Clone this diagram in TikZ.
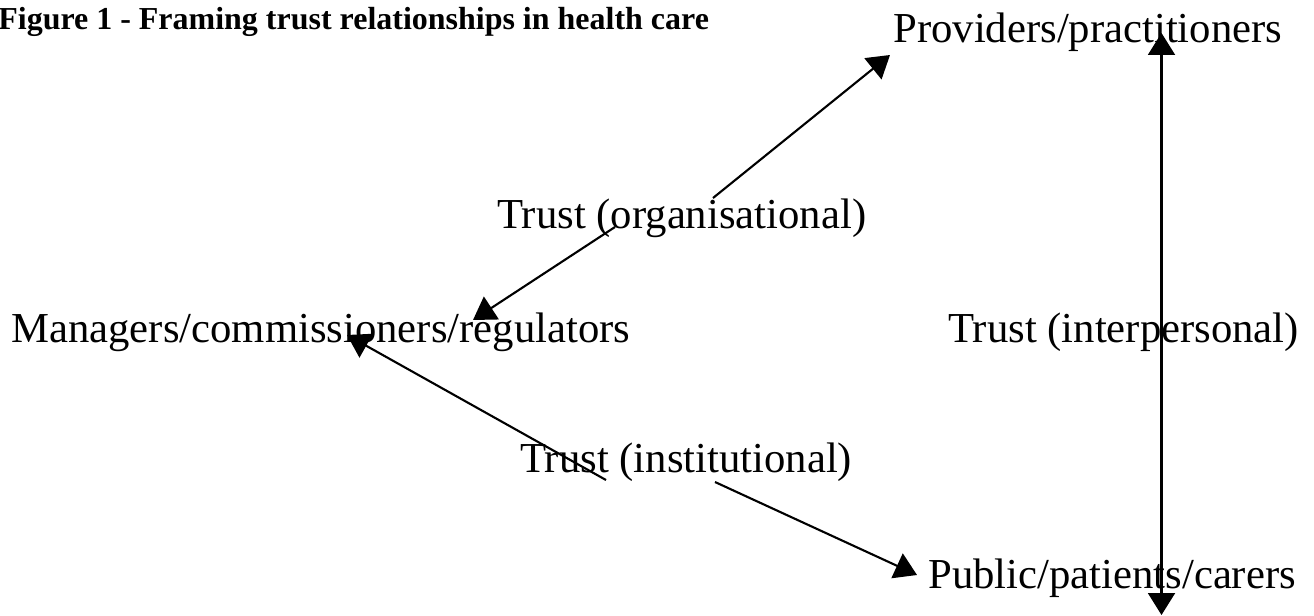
\documentclass[tikz,border=0pt]{standalone}
\usepackage{fontspec}
\setmainfont{Liberation Serif}
\usetikzlibrary{arrows.meta}
\begin{document}
\begin{tikzpicture}[x=0.02cm,y=-0.02cm,
  lbl/.style={anchor=base west,inner sep=0pt,font=\fontsize{24.3}{27}\selectfont},
  link/.style={line width=1.2pt,-{Triangle[length=0.44cm,width=0.54cm]}},
  twolink/.style={line width=1.2pt,{Triangle[length=0.44cm,width=0.54cm]}-{Triangle[length=0.44cm,width=0.54cm]}}]
\useasboundingbox (0,0) rectangle (1314,615);
\node[anchor=base west,inner sep=0pt,font=\bfseries\fontsize{18.2}{21}\selectfont] (title) at (-2,30) {Figure 1 - Framing trust relationships in health care};
\node[lbl] (prov) at (893,43) {Providers/practitioners};
\node[lbl] (mgr) at (11,342) {Managers/commissioners/regulators};
\node[lbl] (pub) at (928,588) {Public/patients/carers};
\node[lbl] (org) at (497,228) {Trust (organisational)};
\node[lbl] (inst) at (520,472) {Trust (institutional)};
\node[lbl] (inter) at (948,342) {Trust (interpersonal)};
% line ends
\coordinate (orgA) at (713,198);
\coordinate (orgB) at (615,227);
\coordinate (instA) at (606,480);
\coordinate (instB) at (715,482);
\coordinate (provtip) at (890,55);
\coordinate (mgrtipA) at (473,320);
\coordinate (mgrtipB) at (347,335);
\coordinate (pubtip) at (917,575);
\coordinate (vtop) at (1161.5,33);
\coordinate (vbot) at (1161.5,615);
\draw[link] (orgA) -- (provtip);
\draw[link] (orgB) -- (mgrtipA);
\draw[link] (instA) -- (mgrtipB);
\draw[link] (instB) -- (pubtip);
\draw[twolink] (vtop) -- (vbot);
\end{tikzpicture}
\end{document}
